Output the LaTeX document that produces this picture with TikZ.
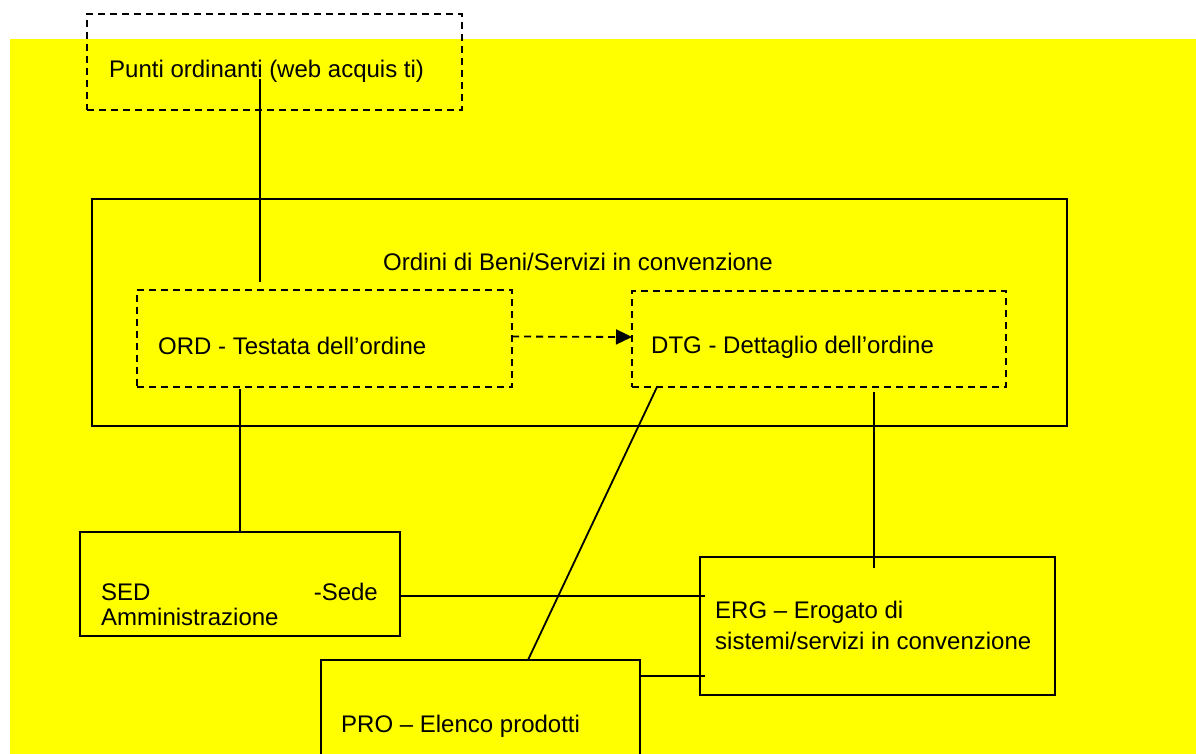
\documentclass[tikz,border=0pt]{standalone}
\usepackage{fontspec}
\setmainfont{Liberation Sans}
\usetikzlibrary{arrows.meta}

\definecolor{bgyellow}{RGB}{255,255,0}

\tikzset{
  boxbase/.style={rectangle, inner sep=0pt, outer sep=0pt, anchor=north west, line width=1.8pt},
  solidbox/.style={boxbase, draw=black},
  dashbox/.style={boxbase, draw=black, dash pattern=on 7pt off 5pt},
  label/.style={anchor=base west, inner sep=0pt, font=\fontsize{24}{28}\selectfont},
  link/.style={draw=black, line width=1.8pt},
  dashlink/.style={link, dash pattern=on 7pt off 5pt},
}

\begin{document}
\begin{tikzpicture}[x=1pt, y=-1pt]
  \clip (0,0) rectangle (1196,754);
  \fill[white] (0,0) rectangle (1196,754);
  \fill[bgyellow] (10,39) rectangle (1196,754);

  % boxes
  \node[dashbox, minimum width=375pt, minimum height=96pt] (punti) at (87,14) {};
  \node[solidbox, minimum width=975pt, minimum height=227pt] (ordini) at (92,199) {};
  \node[dashbox, minimum width=375pt, minimum height=97pt] (ord) at (137,290) {};
  \node[dashbox, minimum width=374pt, minimum height=96pt] (dtg) at (632,291) {};
  \node[solidbox, minimum width=320pt, minimum height=104pt] (sed) at (80,532) {};
  \node[solidbox, minimum width=355pt, minimum height=138pt] (erg) at (700,557) {};
  \node[solidbox, minimum width=319pt, minimum height=130pt] (pro) at (321,660) {};

  % texts
  \node[label] (tpunti) at (109,78) {Punti ordinanti (web acquis ti)};
  \node[label] (tordini) at (383,270) {Ordini di Beni/Servizi in convenzione};
  \node[label] (tord) at (158,354) {ORD - Testata dell’ordine};
  \node[label] (tdtg) at (651,353) {DTG - Dettaglio dell’ordine};
  \node[label] (tsed) at (101,600) {SED};
  \node[label, anchor=base east] (tsede) at (378,600) {-Sede};
  \node[label] (tamm) at (101,625) {Amministrazione};
  \node[label] (terg) at (715,618) {ERG – Erogato di};
  \node[label] (terg2) at (715,649) {sistemi/servizi in convenzione};
  \node[label] (tpro) at (341,732) {PRO – Elenco prodotti};

  % connectors
  \coordinate (pstart) at (260,79);
  \draw[link] (pstart) -- ([xshift=123pt, yshift=8pt]ord.north west);
  \draw[link] ([xshift=103pt, yshift=-2pt]ord.south west) -- ([xshift=160pt]sed.north west);
  \draw[dashlink, -{Triangle[length=16pt, width=15pt]}] ([yshift=2pt]ord.east) -- ([yshift=2pt]dtg.west);
  \draw[link] ([xshift=25pt]dtg.south west) -- ([xshift=207pt]pro.north west);
  \draw[link] ([xshift=242pt, yshift=-5pt]dtg.south west) -- ([xshift=174pt, yshift=-11pt]erg.north west);
  \draw[link] ([yshift=-12pt]sed.east) -- ([xshift=5pt, yshift=-39pt]erg.north west);
  \draw[link] ([yshift=-16pt]pro.north east) -- ([xshift=5pt, yshift=-119pt]erg.north west);
\end{tikzpicture}
\end{document}
